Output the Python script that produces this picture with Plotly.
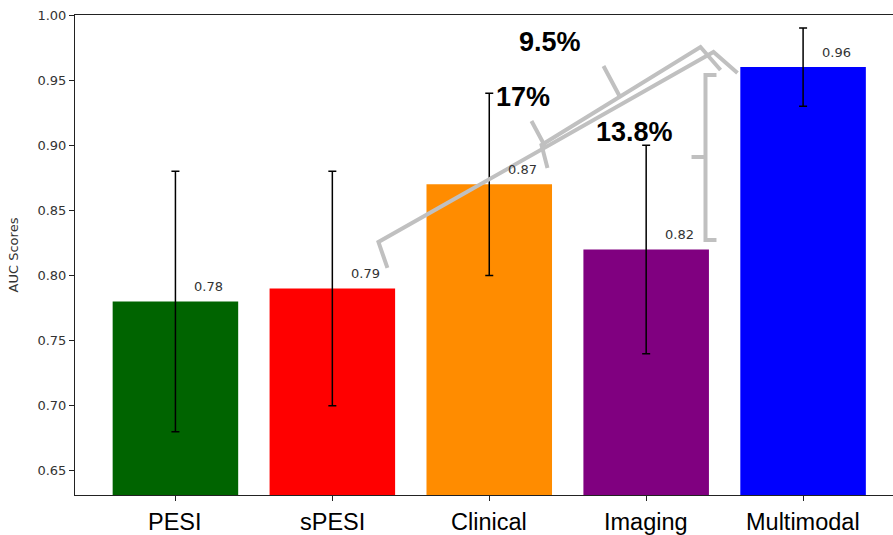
import plotly.graph_objects as go

categories = ["PESI", "sPESI", "Clinical", "Imaging", "Multimodal"]
auc_scores = [0.78, 0.79, 0.87, 0.82, 0.96]
auc_errors = [0.10, 0.09, 0.07, 0.08, 0.03]
bar_colors = ["#006400", "#ff0000", "#ff8c00", "#800080", "#0000ff"]
y_ticks = [0.65, 0.70, 0.75, 0.80, 0.85, 0.90, 0.95, 1.00]
gain_labels = ["9.5%", "17%", "13.8%"]

x_idx = list(range(len(categories)))

fig = go.Figure()
fig.add_trace(go.Bar(
    x=x_idx, y=auc_scores, width=0.8,
    marker=dict(color=bar_colors, line=dict(width=0)),
    error_y=dict(type="data", array=auc_errors, visible=True,
                 color="black", thickness=1.5, width=4),
    showlegend=False, hoverinfo="skip",
))

annotations = []
for i, v in zip(x_idx, auc_scores):
    annotations.append(dict(
        x=i + 0.21, y=v + 0.004, xref="x", yref="y", text=f"{v:.2f}",
        showarrow=False, yanchor="bottom", xanchor="center",
        font=dict(family="DejaVu Sans", size=13, color="#333333"),
    ))

# percentage gain labels (data coords)
gain_pos = [(2.384, 0.9793), (2.218, 0.937), (2.925, 0.9102)]
for txt, (gx, gy) in zip(gain_labels, gain_pos):
    annotations.append(dict(
        x=gx, y=gy, xref="x", yref="y", text=f"<b>{txt}</b>",
        showarrow=False, xanchor="center", yanchor="middle",
        font=dict(family="Liberation Sans, Arial, sans-serif", size=27, color="black"),
    ))

# category labels under the axis
for i, c in zip(x_idx, categories):
    annotations.append(dict(
        x=i, y=0, xref="x", yref="paper", yshift=-27, text=c,
        showarrow=False, xanchor="center", yanchor="middle",
        font=dict(family="Liberation Sans, Arial, sans-serif", size=23.5, color="black"),
    ))

brace_style = dict(color="#c0c0c0", width=4)
shapes = [
    # 17% brace (sPESI -> Multimodal)
    dict(type="path", xref="x", yref="y", layer="above", line=brace_style,
         path="M 1.351 0.8058 L 1.294 0.8257 L 3.429 0.9716 L 3.582 0.9555 "
              "M 2.358 0.8987 L 2.269 0.9186"),
    # 9.5% brace (Clinical -> Multimodal)
    dict(type="path", xref="x", yref="y", layer="above", line=brace_style,
         path="M 2.371 0.8825 L 2.333 0.9002 L 3.346 0.9754 L 3.474 0.9578 "
              "M 2.830 0.9378 L 2.728 0.9608"),
    # 13.8% brace (Imaging -> Multimodal)
    dict(type="path", xref="x", yref="y", layer="above", line=brace_style,
         path="M 3.448 0.9539 L 3.378 0.9539 L 3.378 0.8273 L 3.448 0.8273 "
              "M 3.378 0.8910 L 3.289 0.8910"),
]

fig.update_layout(
    width=893, height=535,
    margin=dict(l=75, r=0, t=15, b=40),
    plot_bgcolor="white", paper_bgcolor="white",
    annotations=annotations, shapes=shapes,
    xaxis=dict(
        range=[-0.64, 4.573], tickmode="array", tickvals=x_idx, showticklabels=False,
        showgrid=False, zeroline=False, showline=True, linecolor="#222222", linewidth=1,
        mirror=True, ticks="outside", ticklen=5, tickcolor="#222222", automargin=False,
    ),
    yaxis=dict(
        range=[0.6315, 1.0], tickmode="array", tickvals=y_ticks,
        ticktext=[f"{t:.2f}" for t in y_ticks],
        showgrid=False, zeroline=False, showline=True, linecolor="#222222", linewidth=1,
        ticks="outside", ticklen=5, tickcolor="#222222", automargin=False,
        tickfont=dict(family="DejaVu Sans", size=13, color="#333333"),
        title=dict(text="AUC Scores", font=dict(family="DejaVu Sans", size=13, color="#333333")),
    ),
)

fig.write_html(
    "out.html",
    config={"displayModeBar": False},
    post_script="document.body.style.margin='0px';document.body.style.overflow='hidden';",
)
